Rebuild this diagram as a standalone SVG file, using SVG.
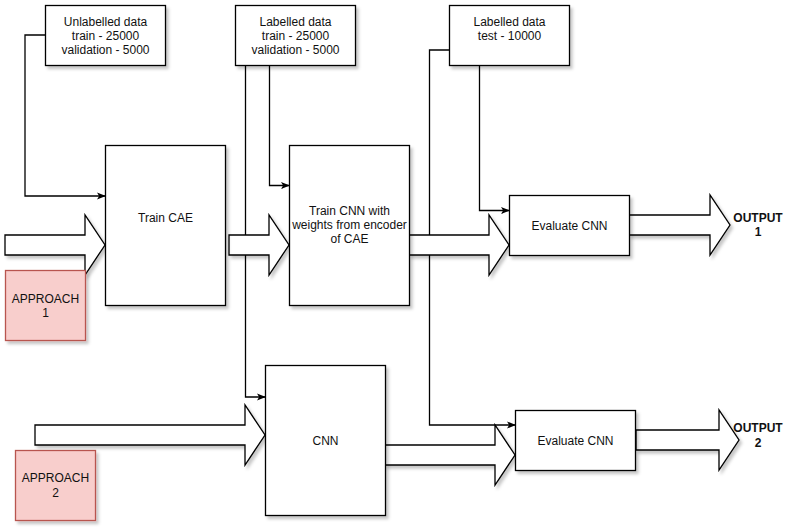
<svg xmlns="http://www.w3.org/2000/svg" width="797" height="532" viewBox="0 0 797 532">
  <defs>
    <filter id="shadow" x="-10%" y="-10%" width="130%" height="130%">
      <feDropShadow dx="2.5" dy="3" stdDeviation="1.5" flood-color="#000" flood-opacity="0.22"/>
    </filter>
    <marker id="head" viewBox="0 0 10 10" refX="9" refY="5" markerWidth="9" markerHeight="9" markerUnits="userSpaceOnUse" orient="auto">
      <path d="M0,1 L10,5 L0,9 L2.5,5 Z" fill="#000"/>
    </marker>
    <style>
      .box { fill: #fff; stroke: #000; stroke-width: 1.3; filter: url(#shadow); }
      .pink { fill: #f8cecc; stroke: #b85450; stroke-width: 1.3; filter: url(#shadow); }
      .big { fill: #fff; stroke: #000; stroke-width: 1.3; filter: url(#shadow); stroke-linejoin: miter; }
      .wire { fill: none; stroke: #000; stroke-width: 1.3; marker-end: url(#head); }
      .plain { fill: none; stroke: #000; stroke-width: 1.3; }
      text { font-family: "Liberation Sans", Arial, sans-serif; font-size: 12px; fill: #111; text-anchor: middle; }
      .bold { font-weight: bold; }
    </style>
  </defs>

  <!-- thin data connectors -->
  <g id="connectors">
    <path class="wire" d="M45,35 H25 V196 H105"/>
    <path class="wire" d="M245.5,65 V397 H265"/>
    <path class="wire" d="M269.5,65 V185.5 H289"/>
    <path class="wire" d="M449,50 H429.5 V425 H515"/>
    <path class="wire" d="M479.5,65 V210.5 H509"/>
  </g>

  <!-- block arrows -->
  <g id="flow-arrows">
    <path class="big" d="M5,235 H85 V215 L105,245 L85,275 V255 H5 Z"/>
    <path class="big" d="M229,235 H269 V215 L289,245 L269,275 V255 H229 Z"/>
    <path class="big" d="M409,235 H489 V215 L509,245 L489,275 V255 H409 Z"/>
    <path class="big" d="M629,215 H710 V195 L730,225 L710,255 V235 H629 Z"/>
    <path class="big" d="M35,425 H245 V405 L265,435 L245,465 V445 H35 Z"/>
    <path class="big" d="M385,445 H495 V425 L515,455 L495,485 V465 H385 Z"/>
    <path class="big" d="M636,430 H719 V410 L739,440 L719,470 V450 H636 Z"/>
  </g>

  <g id="unlabelled-data">
    <rect class="box" x="45.5" y="5.5" width="120" height="60"/>
    <text x="105.5" y="26">Unlabelled data</text>
    <text x="105.5" y="40">train - 25000</text>
    <text x="105.5" y="54">validation - 5000</text>
  </g>

  <g id="labelled-data">
    <rect class="box" x="235.5" y="5.5" width="120" height="60"/>
    <text x="295.5" y="26">Labelled data</text>
    <text x="295.5" y="40">train - 25000</text>
    <text x="295.5" y="54">validation - 5000</text>
  </g>

  <g id="labelled-test">
    <rect class="box" x="449.5" y="5.5" width="120" height="60"/>
    <text x="509.5" y="26">Labelled data</text>
    <text x="509.5" y="40">test - 10000</text>
  </g>

  <g id="train-cae">
    <rect class="box" x="105.5" y="145.5" width="120" height="160"/>
    <text x="165.5" y="222">Train CAE</text>
  </g>

  <g id="train-cnn">
    <rect class="box" x="289.5" y="145.5" width="120" height="160"/>
    <text x="349.5" y="215">Train CNN with</text>
    <text x="349.5" y="229">weights from encoder</text>
    <text x="349.5" y="243">of CAE</text>
  </g>

  <g id="evaluate-1">
    <rect class="box" x="509.5" y="195.5" width="120" height="60"/>
    <text x="569.5" y="230">Evaluate CNN</text>
  </g>

  <g id="cnn">
    <rect class="box" x="265.5" y="365.5" width="120" height="150"/>
    <text x="325.5" y="445">CNN</text>
  </g>

  <g id="evaluate-2">
    <rect class="box" x="515.5" y="410.5" width="120" height="60"/>
    <text x="575.5" y="445">Evaluate CNN</text>
  </g>

  <g id="approach-1">
    <rect class="pink" x="5.5" y="270.5" width="80" height="70"/>
    <text x="45.5" y="303">APPROACH</text>
    <text x="45.5" y="317">1</text>
  </g>

  <g id="approach-2">
    <rect class="pink" x="15.5" y="450.5" width="80" height="70"/>
    <text x="55.5" y="482">APPROACH</text>
    <text x="55.5" y="497">2</text>
  </g>

  <g id="output-1">
    <text class="bold" x="758" y="222">OUTPUT</text>
    <text class="bold" x="758" y="236">1</text>
  </g>

  <g id="output-2">
    <text class="bold" x="758" y="432">OUTPUT</text>
    <text class="bold" x="758" y="447">2</text>
  </g>
</svg>
